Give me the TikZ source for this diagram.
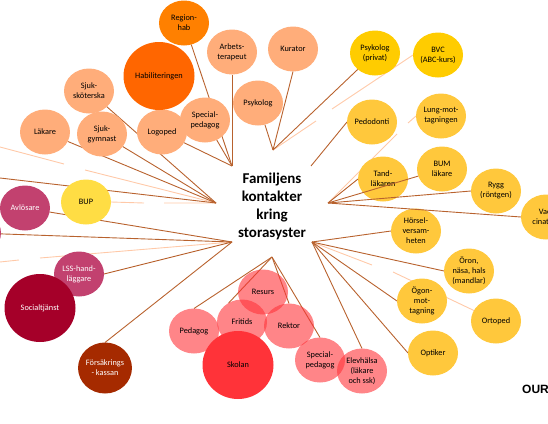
\documentclass[tikz,border=0pt]{standalone}
\usepackage{fontspec}
\setmainfont{Carlito}
\usetikzlibrary{shapes.geometric,backgrounds}
\definecolor{creg}{RGB}{255,128,0}
\definecolor{chab}{RGB}{255,102,0}
\definecolor{cpal}{RGB}{255,173,122}
\definecolor{cyel}{RGB}{255,204,0}
\definecolor{csun}{RGB}{255,200,60}
\definecolor{cbup}{RGB}{255,221,68}
\definecolor{cmag}{RGB}{194,65,111}
\definecolor{csoc}{RGB}{165,0,41}
\definecolor{cfor}{RGB}{165,42,0}
\definecolor{cpink}{RGB}{255,51,57}
\definecolor{cdark}{RGB}{184,98,46}
\definecolor{cpale}{RGB}{255,201,168}

\begin{document}
\begin{tikzpicture}[
  x=1pt,y=-1pt,
  bub/.style={ellipse,minimum width=50pt,minimum height=45pt,inner sep=0pt,outer sep=0pt,align=center,font=\fontsize{8.3}{10}\selectfont},
  big/.style={bub,minimum width=71pt,minimum height=68pt},
  dk/.style={draw=cdark,line width=0.9pt},
  pl/.style={draw=cpale,line width=0.9pt},
  glass/.style={bub,fill=cpink,fill opacity=0.6,text opacity=1},
  ttl/.style={align=center,font=\fontsize{15}{18}\selectfont\bfseries}
]
\useasboundingbox (0,0) rectangle (548,423);

% ---- title ----
\node[ttl] (title) at (272,206) {Familjens\\kontakter\\kring\\storasyster};
\node[anchor=west,inner sep=0pt,font=\fontsize{12}{12}\selectfont\fontspec{Liberation Sans}\bfseries] (our) at (522,389) {OUR};

% ================= orange =================
\foreach \n/\x/\y/\t in {arbets/232/52/{Arbets-\\terapeut},kurator/293/49/Kurator,psyk/258/103/Psykolog,
  sjukskot/89/91/{Sjuk-\\sköterska},lakare/45/132/Läkare,sjukgym/102/134/{Sjuk-\\gymnast},
  logoped/162/132/Logoped,spedo/205/120/{Special-\\pedagog}}
  {\node[bub,fill=cpal] (\n) at (\x,\y) {\t};}
\node[bub,fill=creg] (region) at (184,23) {Region-\\hab};
\node[big,fill=chab] (habil) at (159,76) {Habiliteringen};

% ================= yellow =================
\node[bub,fill=cyel] (privat) at (375,53) {Psykolog\\(privat)};
\node[bub,fill=cyel] (bvc) at (438,55) {BVC\\(ABC-kurs)};
\node[bub,fill=cbup] (bup) at (86,202) {BUP};
\foreach \n/\x/\y/\t in {pedodonti/372/122/Pedodonti,lung/441/116/{Lung-mot-\\tagningen},tand/383/179/{Tand-\\läkaren},
  bum/442/169/{BUM\\läkare},rygg/496/191/{Rygg\\(röntgen)},vacc/546/217/{Vac-\\cination},
  horsel/416/231/{Hörsel-\\versam-\\heten},oron/469/271/{Öron,\\näsa, hals\\(mandlar)},ortoped/496/321/Ortoped,
  ogon/422/301/{Ögon-\\mot-\\tagning},optiker/433/353/Optiker}
  {\node[bub,fill=csun] (\n) at (\x,\y) {\t};}

% ================= magenta and red =================
\node[bub,fill=cmag,text=white] (avlos) at (25,208) {Avlösare};
\node[bub,fill=cmag] (edge) at (-24,233) {};
\node[bub,fill=cmag,text=white] (lss) at (79,274) {LSS-hand-\\läggare};
\node[big,fill=csoc,text=white] (social) at (40,308) {Socialtjänst};
\node[bub,fill=cfor,text=white,minimum height=51pt] (forsak) at (105,368) {Försäkrings\\- kassan};

% ================= school =================
\foreach \n/\x/\y/\t in {pedagog/194/331/Pedagog,fritids/242/322/Fritids,resurs/263/292/Resurs,rektor/289/326/Rektor,
  spedb/320/360/{Special-\\pedagog},elev/362/371/{Elevhälsa\\(läkare\\och ssk)}}
  {\node[glass] (\n) at (\x,\y) {\t};}
\node[big,fill=cpink] (skolan) at (238,365) {Skolan};

% ---- hubs and loose ends ----
\coordinate (huba) at (232,166);
\coordinate (hubb) at (273,150);
\coordinate (hubc) at (328,203);
\coordinate (hubd) at (312,242);
\coordinate (hube) at (272,257);
\coordinate (hubf) at (216,203);
\coordinate (hubg) at (232,242);
\coordinate (bvca) at (332,109);
\coordinate (bvcb) at (316,121);
\coordinate (lunga) at (408,123);
\coordinate (lungb) at (397,134);
\coordinate (orta) at (393,272);
\coordinate (ortb) at (372,265);
\coordinate (lefta) at (85,170);
\coordinate (leftb) at (0,147);
\coordinate (leftc) at (64,164);
\coordinate (bupa) at (144,203);
\coordinate (bupb) at (164,203);
\coordinate (lowa) at (40,258);
\coordinate (lowb) at (0,262);
\coordinate (lowc) at (19,260);
\coordinate (darkl) at (0,178);
\coordinate (pedo) at (311,166);

% ================= connectors (background) =================
\begin{scope}[on background layer]
  \draw[pl] (bvc.west) -- (bvca) (bvcb) -- (hubb);
  \draw[pl] (lung.west) -- (lunga) (lungb) -- (hubc);
  \draw[pl] (ortoped) -- (orta) (ortb) -- (hubd);
  \draw[pl] (lefta) -- (hubf) (leftb) -- (leftc);
  \draw[pl] (bup.east) -- (bupa) (bupb) -- (hubf);
  \draw[pl] (lowa) -- (hubg) (lowb) -- (lowc);
  \foreach \n in {region,arbets.south,spedo,logoped} {\draw[dk] (\n) -- (huba);}
  \foreach \n in {kurator.south,psyk,privat} {\draw[dk] (\n) -- (hubb);}
  \draw[dk] (pedodonti.west) -- (pedo);
  \foreach \n in {horsel.west,oron.west,ogon.west,optiker.west,elev.north} {\draw[dk] (\n) -- (hubd);}
  \foreach \n in {pedagog.north,fritids.125,rektor.north,spedb.north} {\draw[dk] (\n) -- (hube);}
  \foreach \n in {sjukskot,lakare,sjukgym} {\draw[dk] (\n) -- (hubf);}
  \draw[dk] (darkl) -- (hubf);
  \foreach \n in {avlos,edge,lss.east,forsak.north} {\draw[dk] (\n) -- (hubg);}
\end{scope}
\foreach \n in {tand.west,bum,rygg.west,vacc.west} {\draw[dk] (\n) -- (hubc);}
\end{tikzpicture}
\end{document}
